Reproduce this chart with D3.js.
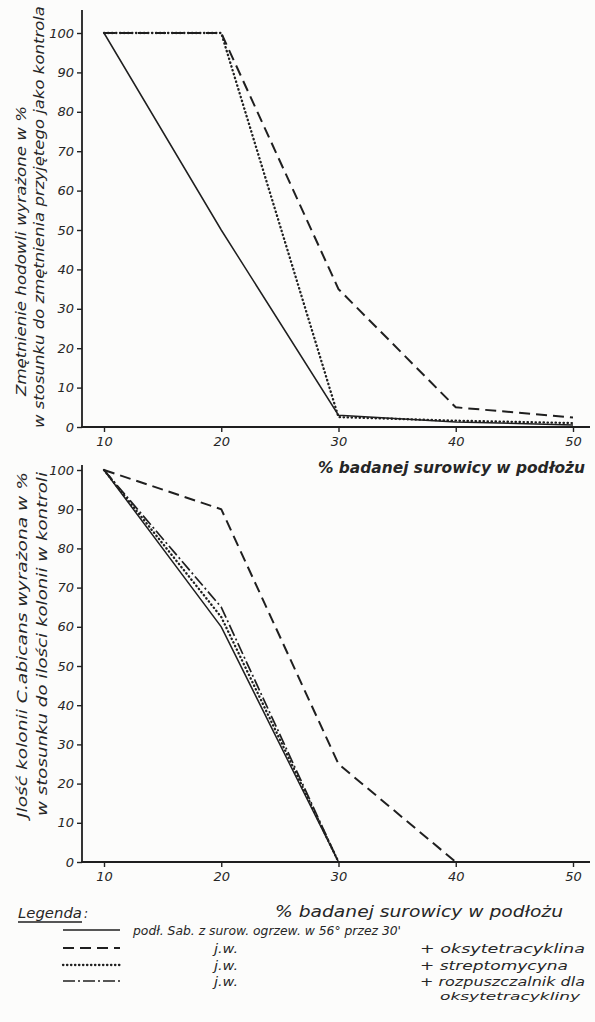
<!DOCTYPE html>
<html>
<head>
<meta charset="utf-8">
<script src="https://cdn.jsdelivr.net/npm/d3@7"></script>
<style>
  body { margin: 0; background: #fcfcfb; }
  svg { display: block; }
  text { font-family: "DejaVu Sans", sans-serif; font-style: italic; fill: #262626; }
  .tick line { stroke: #222; stroke-width: 1.4; }
  .tick text { font-size: 13px; }
</style>
</head>
<body>
<div id="chart"></div>
<script>
// x values (% badanej surowicy w podłożu)
const xValues = [10, 20, 30, 40, 50];
const xTicks = [10, 20, 30, 40, 50];
const yTicks = [0, 10, 20, 30, 40, 50, 60, 70, 80, 90, 100];

// top chart - zmętnienie hodowli
const topSolid  = [100, 50, 3, 1.3, 0.5];
const topDashed = [100, 100, 35, 5, 2.4];
const topDotted = [100, 100, 2.5, 1.6, 1];

// bottom chart - ilość kolonii
const botSolid   = [100, 60, 0, null, null];
const botDashed  = [100, 90, 25, 0, null];
const botDotted  = [100, 62.5, 0, null, null];
const botDashDot = [100, 65, 0, null, null];

const legendLabels = ["podł. Sab. z surow. ogrzew. w 56° przez 30'", "j.w.", "j.w.", "j.w."];
const legendExtra = ["", "+ oksytetracyklina", "+ streptomycyna", "+ rozpuszczalnik dla"];

const W = 595, H = 1022;
const ink = "#1f1f1f";
const styles = {
  solid:   { dash: null, width: 1.5 },
  dashed:  { dash: "11,6", width: 2 },
  dotted:  { dash: "0.4,3.6", width: 2.3 },
  dashdot: { dash: "12,3,2,3", width: 1.7 }
};

const svg = d3.select("#chart").append("svg")
  .attr("width", W).attr("height", H);

const x = d3.scaleLinear().domain([10, 50]).range([104, 573]);
const axisX = 82, axisEnd = 590;

function panel(y0, y100, yTop, series) {
  const y = d3.scaleLinear().domain([0, 100]).range([y0, y100]);
  const g = svg.append("g");

  // axes
  const ya = g.append("g").attr("transform", "translate(" + axisX + ",0)")
    .call(d3.axisLeft(y).tickValues(yTicks).tickSize(5).tickPadding(3));
  ya.select(".domain").remove();
  const xa = g.append("g").attr("transform", "translate(0," + y0 + ")")
    .call(d3.axisBottom(x).tickValues(xTicks).tickSize(5).tickPadding(5));
  xa.select(".domain").remove();

  g.append("line").attr("x1", axisX).attr("x2", axisX)
    .attr("y1", yTop).attr("y2", y0 + 1)
    .style("stroke", ink).style("stroke-width", 1.8);
  g.append("line").attr("x1", axisX - 1).attr("x2", axisEnd)
    .attr("y1", y0).attr("y2", y0)
    .style("stroke", ink).style("stroke-width", 1.8);

  const line = d3.line()
    .defined(d => d[1] != null)
    .x(d => x(d[0]))
    .y(d => y(d[1]));

  series.forEach(s => {
    g.append("path")
      .datum(xValues.map((v, i) => [v, s.values[i]]))
      .attr("d", line)
      .style("fill", "none")
      .style("stroke", ink)
      .style("stroke-width", styles[s.style].width)
      .style("stroke-dasharray", styles[s.style].dash)
      .style("stroke-linecap", s.style === "dotted" ? "round" : "butt");
  });
  return g;
}

panel(427, 33, 10, [
  { values: topSolid, style: "solid" },
  { values: topDashed, style: "dashed" },
  { values: topDotted, style: "dotted" }
]);

panel(862, 470, 465, [
  { values: botSolid, style: "solid" },
  { values: botDashed, style: "dashed" },
  { values: botDotted, style: "dotted" },
  { values: botDashDot, style: "dashdot" }
]);

// axis titles
function vtext(txt, cx, yStart, len, size) {
  svg.append("text")
    .attr("transform", "translate(" + cx + "," + yStart + ") rotate(-90)")
    .attr("dy", "0.35em")
    .attr("textLength", len)
    .attr("lengthAdjust", "spacingAndGlyphs")
    .style("font-size", size + "px")
    .text(txt);
}
vtext("Zmętnienie hodowli wyrażone w %", 21, 396, 290, 14);
vtext("w stosunku do zmętnienia przyjętego jako kontrola", 39, 428, 422, 14);
vtext("Jlość kolonii C.abicans wyrażona w %", 22, 818, 346, 14);
vtext("w stosunku do ilości kolonii w kontroli", 42, 816, 344, 14);

function htext(txt, xs, yc, len, size, weight) {
  return svg.append("text")
    .attr("x", xs).attr("y", yc).attr("dy", "0.35em")
    .attr("textLength", len)
    .attr("lengthAdjust", "spacingAndGlyphs")
    .style("font-size", size + "px")
    .style("font-weight", weight || "normal")
    .text(txt);
}
htext("% badanej surowicy w podłożu", 318, 468, 267, 15, "bold");
htext("% badanej surowicy w podłożu", 275, 912, 288, 15);

// legend
htext("Legenda", 18, 913, 64, 14);
htext(":", 84, 913, 4, 14);
svg.append("line").attr("x1", 18).attr("x2", 82).attr("y1", 922).attr("y2", 922)
  .style("stroke", ink).style("stroke-width", 1.3);

const legendStyles = ["solid", "dashed", "dotted", "dashdot"];
const rowY = [930, 948, 965, 981];
legendStyles.forEach((st, i) => {
  svg.append("line").attr("x1", 63).attr("x2", 120)
    .attr("y1", rowY[i]).attr("y2", rowY[i])
    .style("stroke", ink)
    .style("stroke-width", styles[st].width)
    .style("stroke-dasharray", styles[st].dash)
    .style("stroke-linecap", st === "dotted" ? "round" : "butt");
  if (i === 0) {
    htext(legendLabels[i], 133, rowY[i], 268, 13);
  } else {
    htext(legendLabels[i], 214, rowY[i], 24, 13);
    htext(legendExtra[i], 420, rowY[i], i === 2 ? 148 : 165, 13);
  }
});
htext("oksytetracykliny", 440, 996, 140, 11);
</script>
</body>
</html>
